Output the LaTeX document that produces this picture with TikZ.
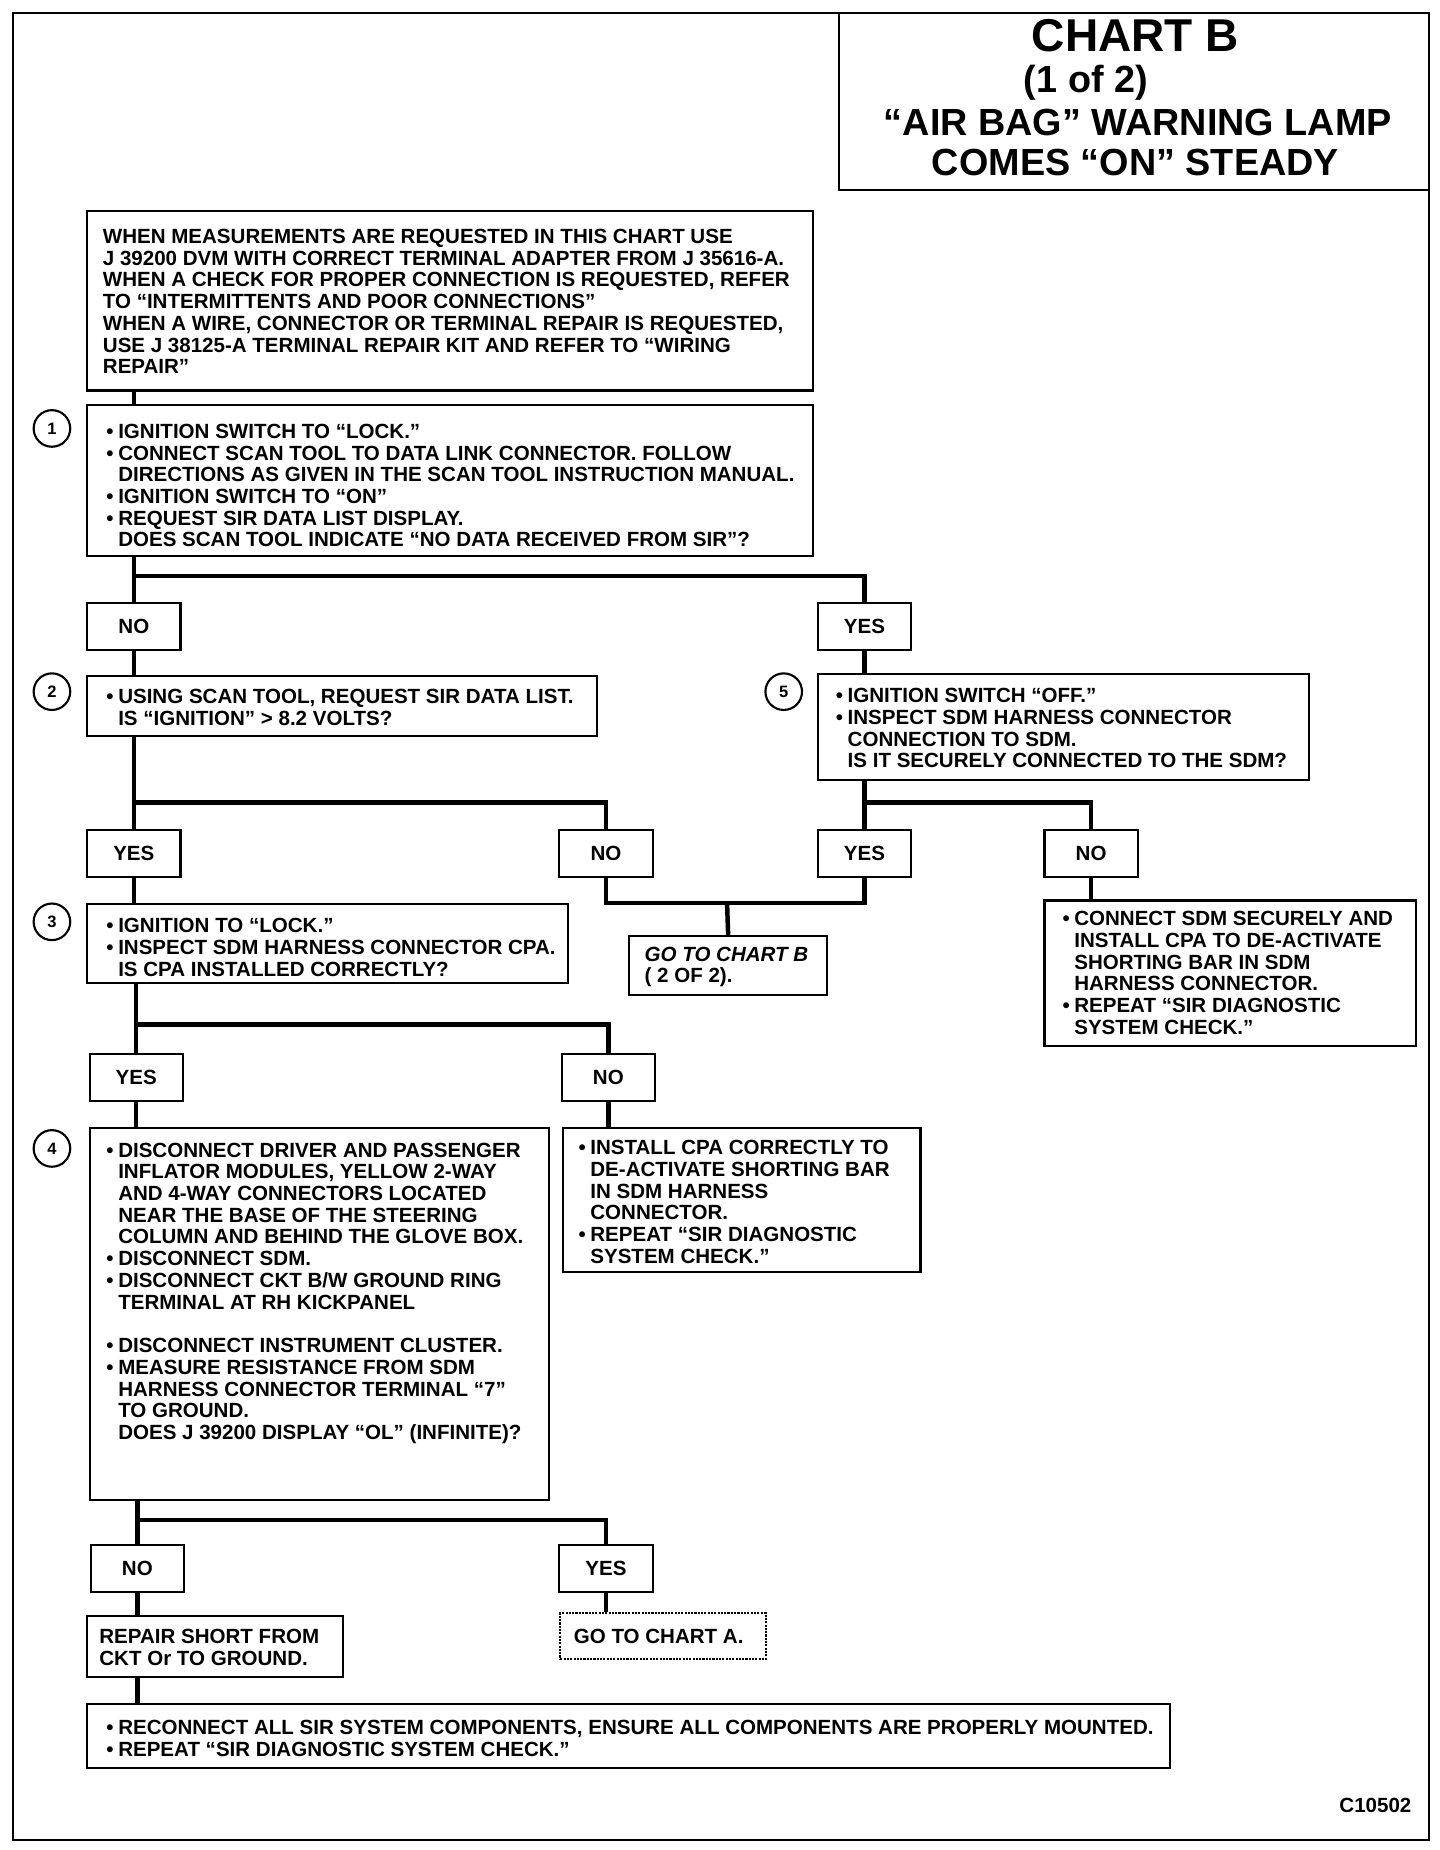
\documentclass[tikz,border=0pt]{standalone}
\usepackage{fontspec}
\setmainfont{Liberation Sans}
\newcommand\bodyf{\fontsize{17.4}{18.4}\selectfont\bfseries}
\newcommand\bl{\makebox[10pt][l]{•}}
\newcommand\ind{\hspace*{10pt}}
\begin{document}
\begin{tikzpicture}[x=1pt,y=-1pt,
  bx/.style={draw, line width=1.8pt, inner sep=0pt, anchor=north west},
  yn/.style={bx, minimum width=79pt, minimum height=40pt, font=\bodyf},
  txt/.style={anchor=north west, inner sep=0pt, align=left, font=\bodyf},
  conn/.style={line width=3.8pt},
  num/.style={circle, draw, line width=1.8pt, minimum size=31pt, inner sep=0pt, font=\fontsize{14}{14}\selectfont\bfseries},
  ttl/.style={anchor=base, inner sep=0pt, font=\fontsize{32}{32}\selectfont\bfseries}]
\useasboundingbox (0,0) rectangle (1220,1567.4);
\fill[white] (0,0) rectangle (1220,1567.4);
% frame and title
\node[bx, minimum width=1200pt, minimum height=1548pt] (frame) at (10,10) {};
\node[bx, minimum width=500pt, minimum height=150pt] (title) at (710,10) {};
\node[ttl, font=\fontsize{39}{39}\selectfont\bfseries] (t1) at (962,43.6) {CHART B};
\node[ttl] (t2) at (920,78.4) {(1 of 2)};
\node[ttl] (t3) at (964,114.4) {“AIR BAG” WARNING LAMP};
\node[ttl] (t4) at (962,148.4) {COMES “ON” STEADY};
% boxes
\node[bx, minimum width=615pt, minimum height=152pt] (intro) at (73,178) {};
\node[bx, minimum width=615pt, minimum height=128pt] (b1) at (73,342) {};
\node[yn] (no1) at (73,510) {NO};
\node[yn] (yes1) at (692,510) {YES};
\node[bx, minimum width=432pt, minimum height=51pt] (b2) at (73,572) {};
\node[bx, minimum width=416pt, minimum height=90pt] (b5) at (692,570) {};
\node[yn] (yes2) at (73,702) {YES};
\node[yn] (no2) at (473,702) {NO};
\node[yn] (yes5) at (692,702) {YES};
\node[yn] (no5) at (884,702) {NO};
\node[bx, minimum width=407pt, minimum height=67pt] (b3) at (73,765) {};
\node[bx, minimum width=168pt, minimum height=50pt] (gotoB) at (532,792) {};
\node[bx, minimum width=315pt, minimum height=123pt] (cs) at (884,762) {};
\node[yn] (yes3) at (75,892) {YES};
\node[yn] (no3) at (475,892) {NO};
\node[bx, minimum width=389pt, minimum height=315pt] (b4) at (75,955) {};
\node[bx, minimum width=303pt, minimum height=122pt] (ncpa) at (476,955) {};
\node[yn] (no4) at (76,1308) {NO};
\node[yn] (yes4) at (473,1308) {YES};
\node[bx, minimum width=217pt, minimum height=52pt] (rep) at (73,1368) {};
\node[bx, densely dotted, line width=1.5pt, minimum width=174pt, minimum height=39pt] (gotoA) at (474,1366) {};
\node[bx, minimum width=917pt, minimum height=54pt] (final) at (73,1443) {};
% step numbers
\node[num] (c1) at (44,363) {1};
\node[num] (c2) at (44,586) {2};
\node[num] (c3) at (44,781) {3};
\node[num] (c4) at (44,973) {4};
\node[num] (c5) at (664,586) {5};
% texts
\node[txt] (introT) at (87,194) {WHEN MEASUREMENTS ARE REQUESTED IN THIS CHART USE\\
J 39200 DVM WITH CORRECT TERMINAL ADAPTER FROM J 35616-A.\\
WHEN A CHECK FOR PROPER CONNECTION IS REQUESTED, REFER\\
TO “INTERMITTENTS AND POOR CONNECTIONS”\\
WHEN A WIRE, CONNECTOR OR TERMINAL REPAIR IS REQUESTED,\\
USE J 38125-A TERMINAL REPAIR KIT AND REFER TO “WIRING\\
REPAIR”};
\node[txt] (b1T) at (90,359) {\bl IGNITION SWITCH TO “LOCK.”\\
\bl CONNECT SCAN TOOL TO DATA LINK CONNECTOR. FOLLOW\\
\ind DIRECTIONS AS GIVEN IN THE SCAN TOOL INSTRUCTION MANUAL.\\
\bl IGNITION SWITCH TO “ON”\\
\bl REQUEST SIR DATA LIST DISPLAY.\\
\ind DOES SCAN TOOL INDICATE “NO DATA RECEIVED FROM SIR”?};
\node[txt] (b2T) at (90,584) {\bl USING SCAN TOOL, REQUEST SIR DATA LIST.\\
\ind IS “IGNITION” > 8.2 VOLTS?};
\node[txt] (b5T) at (708,583) {\bl IGNITION SWITCH “OFF.”\\
\bl INSPECT SDM HARNESS CONNECTOR\\
\ind CONNECTION TO SDM.\\
\ind IS IT SECURELY CONNECTED TO THE SDM?};
\node[txt] (b3T) at (90,778) {\bl IGNITION TO “LOCK.”\\
\bl INSPECT SDM HARNESS CONNECTOR CPA.\\
\ind IS CPA INSTALLED CORRECTLY?};
\node[txt] (gotoBT) at (546,802) {{\itshape GO TO CHART B}\\( 2 OF 2).};
\node[txt] (csT) at (900,772) {\bl CONNECT SDM SECURELY AND\\
\ind INSTALL CPA TO DE-ACTIVATE\\
\ind SHORTING BAR IN SDM\\
\ind HARNESS CONNECTOR.\\
\bl REPEAT “SIR DIAGNOSTIC\\
\ind SYSTEM CHECK.”};
\node[txt] (b4T) at (90,968) {\bl DISCONNECT DRIVER AND PASSENGER\\
\ind INFLATOR MODULES, YELLOW 2-WAY\\
\ind AND 4-WAY CONNECTORS LOCATED\\
\ind NEAR THE BASE OF THE STEERING\\
\ind COLUMN AND BEHIND THE GLOVE BOX.\\
\bl DISCONNECT SDM.\\
\bl DISCONNECT CKT B/W GROUND RING\\
\ind TERMINAL AT RH KICKPANEL\\
\mbox{}\\
\bl DISCONNECT INSTRUMENT CLUSTER.\\
\bl MEASURE RESISTANCE FROM SDM\\
\ind HARNESS CONNECTOR TERMINAL “7”\\
\ind TO GROUND.\\
\ind DOES J 39200 DISPLAY “OL” (INFINITE)?};
\node[txt] (ncpaT) at (490,966) {\bl INSTALL CPA CORRECTLY TO\\
\ind DE-ACTIVATE SHORTING BAR\\
\ind IN SDM HARNESS\\
\ind CONNECTOR.\\
\bl REPEAT “SIR DIAGNOSTIC\\
\ind SYSTEM CHECK.”};
\node[txt] (repT) at (84,1380) {REPAIR SHORT FROM\\CKT Or TO GROUND.};
\node[txt] (gotoAT) at (486,1380) {GO TO CHART A.};
\node[txt] (finalT) at (90,1457) {\bl RECONNECT ALL SIR SYSTEM COMPONENTS, ENSURE ALL COMPONENTS ARE PROPERLY MOUNTED.\\
\bl REPEAT “SIR DIAGNOSTIC SYSTEM CHECK.”};
\node[anchor=base east, inner sep=0pt, font=\bodyf] (code) at (1196,1536) {C10502};
% connectors
\coordinate (j1) at (112.5,488);
\coordinate (j2) at (112.5,680);
\coordinate (j5) at (731.5,680);
\coordinate (j6) at (616,765);
\coordinate (j3) at (114.5,868);
\coordinate (j4) at (115.5,1288);
\draw[conn] (intro.south -| no1.north) -- (b1.north -| no1.north);
\draw[conn] (b1.south -| no1.north) -- (no1.north);
\draw[conn] (j1) -| (yes1.north);
\draw[conn] (no1.south) -- (b2.north -| no1.south);
\draw[conn] (yes1.south) -- (b5.north -| yes1.south);
\draw[conn] (b2.south -| yes2.north) -- (yes2.north);
\draw[conn] (j2) -| (no2.north);
\draw[conn] (b5.south -| yes5.north) -- (yes5.north);
\draw[conn] (j5) -| (no5.north);
\draw[conn] (no2.south) |- (j6) -| (yes5.south);
\draw[conn] (j6) -- (gotoB.north);
\draw[conn] (no5.south) -- (cs.north -| no5.south);
\draw[conn] (yes2.south) -- (b3.north -| yes2.south);
\draw[conn] (b3.south -| yes3.north) -- (yes3.north);
\draw[conn] (j3) -| (no3.north);
\draw[conn] (yes3.south) -- (b4.north -| yes3.south);
\draw[conn] (no3.south) -- (ncpa.north -| no3.south);
\draw[conn] (b4.south -| no4.north) -- (no4.north);
\draw[conn] (j4) -| (yes4.north);
\draw[conn] (no4.south) -- (rep.north -| no4.south);
\draw[conn] (yes4.south) -- (gotoA.north -| yes4.south);
\draw[conn] (rep.south -| no4.south) -- (final.north -| no4.south);
\end{tikzpicture}
\end{document}
